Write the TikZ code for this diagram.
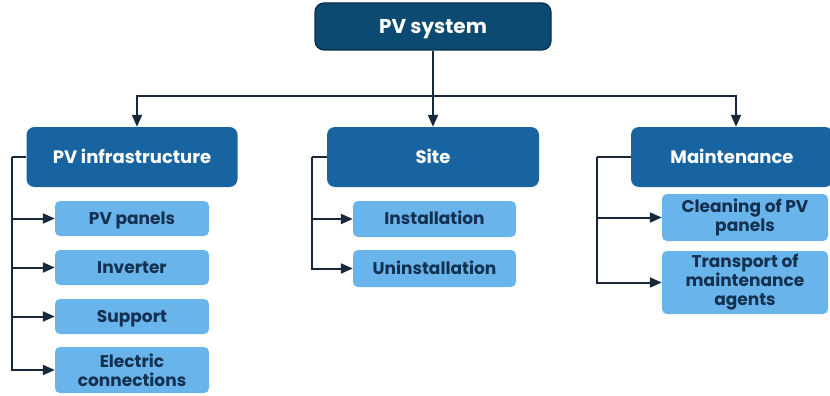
\documentclass[tikz,border=0pt]{standalone}
\usepackage{fontspec}
\setmainfont{Poppins}
\usepackage{xcolor}
\usepackage{tikz}
\usetikzlibrary{arrows.meta, positioning, calc}

\definecolor{navy}{HTML}{0D4A72}
\definecolor{navyline}{HTML}{0A2E48}
\definecolor{midblue}{HTML}{1864A0}
\definecolor{leafblue}{HTML}{6AB4EC}
\definecolor{leaftext}{HTML}{13304F}
\definecolor{wire}{HTML}{17283A}

\begin{document}
\begin{tikzpicture}[
  x=1pt, y=-1pt,
  oneline/.style={text height=#1, text depth=0pt},
  topbox/.style={rectangle, rounded corners=9pt, fill=navy, draw=navyline, line width=1.2pt, oneline=14pt,
    minimum width=236pt, minimum height=47pt, text=white, font=\fontsize{20}{22}\selectfont\bfseries},
  midbox/.style={rectangle, rounded corners=8pt, fill=midblue, draw=none, oneline=12.6pt,
    minimum height=60pt, text=white, font=\fontsize{18}{20}\selectfont\bfseries},
  leafbox/.style={rectangle, rounded corners=5pt, fill=leafblue, draw=none, align=center,
    text=leaftext, inner sep=1pt, font=\fontsize{17}{19}\selectfont\bfseries},
  link/.style={-{Triangle[length=12pt, width=10pt]}, wire, line width=2pt},
  wireline/.style={wire, line width=2pt}
]
  \useasboundingbox (0,0) rectangle (830,396);
  % top level
  \node[topbox] (top) at (433,26.5) {PV system};
  % second level
  \node[midbox, minimum width=211pt] (infra) at (132,157) {PV infrastructure};
  \node[midbox, minimum width=212pt] (site)  at (433,157) {Site};
  \node[midbox, minimum width=202pt] (maint) at (732,157) {Maintenance};
  % leaves under PV infrastructure
  \node[leafbox, oneline=11.9pt, minimum width=154pt, minimum height=35pt] (panels)   at (132,218.5) {PV panels};
  \node[leafbox, oneline=11.9pt, minimum width=154pt, minimum height=35pt] (inverter) at (132,267.5) {Inverter};
  \node[leafbox, oneline=11.9pt, minimum width=154pt, minimum height=35pt] (support)  at (132,316.5) {Support};
  \node[leafbox, minimum width=154pt, minimum height=46pt] (electric) at (132,370) {Electric\\connections};
  % leaves under Site
  \node[leafbox, oneline=11.9pt, minimum width=163pt, minimum height=36pt] (install)   at (434.5,219) {Installation};
  \node[leafbox, oneline=11.9pt, minimum width=163pt, minimum height=37pt] (uninstall) at (434.5,268.5) {Uninstallation};
  % leaves under Maintenance
  \node[leafbox, minimum width=166pt, minimum height=47pt] (cleaning)  at (745,217.5) {Cleaning of PV\\panels};
  \node[leafbox, minimum width=166pt, minimum height=63pt] (transport) at (745,282.5) {Transport of\\maintenance\\agents};

  % hub and bracket corners
  \coordinate (hub) at (433,96);
  \coordinate (infraL) at (12,157);
  \coordinate (siteL) at (312,157);
  \coordinate (maintL) at (597,157);

  % top to second level
  \draw[wireline] (top.south) -- (hub);
  \draw[link] (hub) -| ($(infra.north)+(5,0)$);
  \draw[link] (hub) -- (site.north);
  \draw[link] (hub) -| ($(maint.north)+(4,0)$);

  % brackets
  \draw[wireline] (infra.west) -- (infraL);
  \draw[link] (infraL) |- (panels.west);
  \draw[link] (infraL) |- (inverter.west);
  \draw[link] (infraL) |- (support.west);
  \draw[link] (infraL) |- (electric.west);

  \draw[wireline] (site.west) -- (siteL);
  \draw[link] (siteL) |- (install.west);
  \draw[link] (siteL) |- (uninstall.west);

  \draw[wireline] (maint.west) -- (maintL);
  \draw[link] (maintL) |- (cleaning.west);
  \draw[link] (maintL) |- (transport.west);
\end{tikzpicture}
\end{document}
